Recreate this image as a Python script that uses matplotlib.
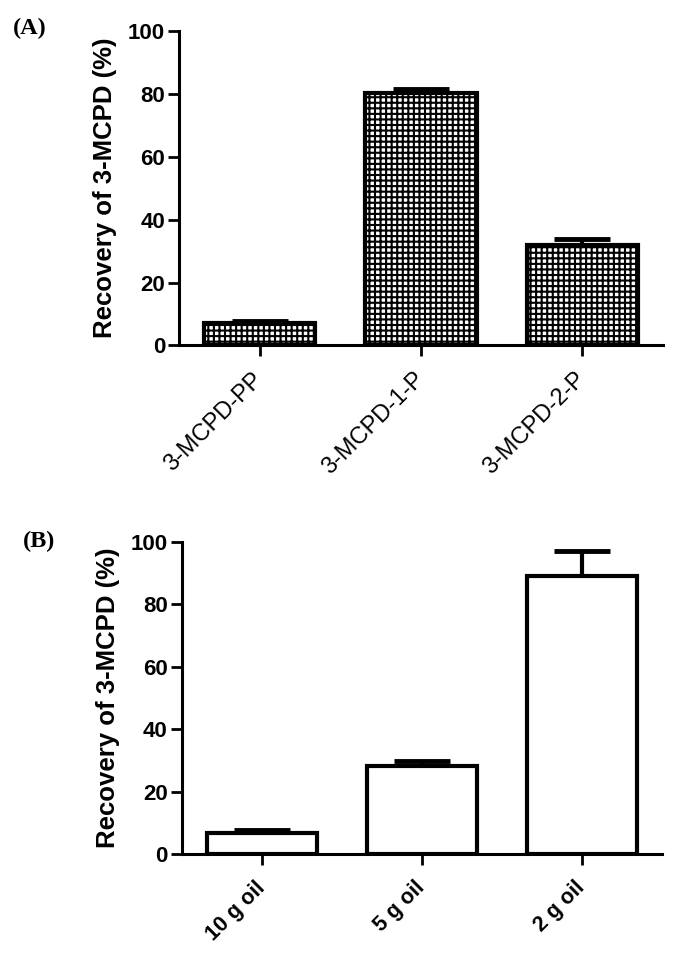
import numpy as np
import matplotlib.pyplot as plt

# dados
cat_a = ['3-MCPD-PP', '3-MCPD-1-P', '3-MCPD-2-P']
rec_a = [7.1, 80.3, 32.1]
err_a = [0.7, 1.4, 1.8]

cat_b = ['10 g oil', '5 g oil', '2 g oil']
rec_b = [6.8, 28.2, 89.0]
err_b = [0.8, 1.6, 8.1]

yticks = [0, 20, 40, 60, 80, 100]

plt.rcParams['font.family'] = ['Liberation Sans', 'DejaVu Sans']
plt.rcParams['hatch.linewidth'] = 1.5

fig = plt.figure(figsize=(6.79, 9.65), dpi=100)
ax_a = fig.add_axes([0.2636, 0.642, 0.7128, 0.3259])
ax_b = fig.add_axes([0.2676, 0.115, 0.7074, 0.3237])


def painel(ax, cats, vals, errs, hatch, bold_x, fs_x):
    x = np.arange(len(cats))
    bars = ax.bar(x, vals, width=0.69, color='white', edgecolor='black',
                  linewidth=3, hatch=hatch, zorder=2)
    for b in bars:
        b.set_joinstyle('miter')
    ax.errorbar(x, vals, yerr=[np.zeros(len(vals)), errs], fmt='none',
                ecolor='black', elinewidth=3, capsize=20.5, capthick=3.5,
                zorder=1)
    ax.set_xlim(-0.5, len(cats) - 0.5)
    ax.set_ylim(0, 100)
    ax.set_yticks(yticks)
    ax.set_xticks(x)
    ax.set_xticklabels(cats, rotation=45, ha='right', va='center',
                       rotation_mode='anchor', fontsize=fs_x,
                       fontweight='bold' if bold_x else 'normal')
    for lab in ax.get_yticklabels():
        lab.set_fontsize(16)
        lab.set_fontweight('bold')
    ax.spines['right'].set_visible(False)
    ax.spines['top'].set_visible(False)
    ax.spines['left'].set_linewidth(2.2)
    ax.spines['bottom'].set_linewidth(2.2)
    ax.tick_params(axis='both', length=8, width=2, pad=2)
    ax.tick_params(axis='x', pad=14)
    ax.set_ylabel('Recovery of 3-MCPD (%)', fontsize=18.5, fontweight='bold')
    ax.yaxis.set_label_coords(-0.128, 0.5)


painel(ax_a, cat_a, rec_a, err_a, '+++', False, 17)
painel(ax_b, cat_b, rec_b, err_b, None, True, 15.5)

fig.text(0.019, 0.971, '(A)', family='Liberation Serif', fontweight='bold',
         fontsize=17.5, va='center')
fig.text(0.033, 0.439, '(B)', family='Liberation Serif', fontweight='bold',
         fontsize=17.5, va='center')

fig.savefig('out.png', dpi=100)
